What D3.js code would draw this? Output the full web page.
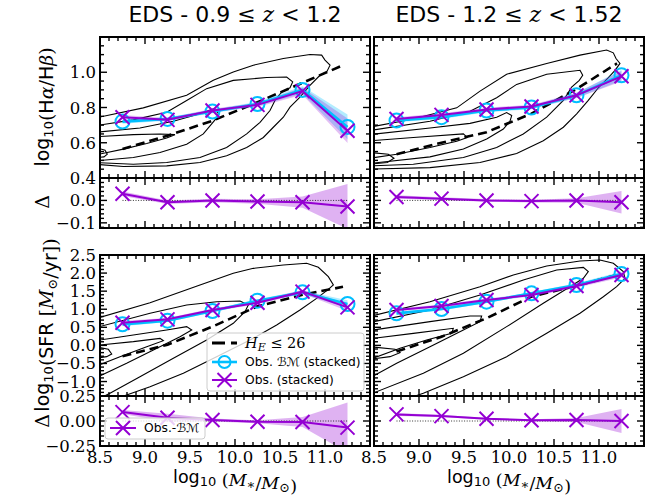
<!DOCTYPE html>
<html>
<head>
<meta charset="utf-8">
<script src="https://cdn.jsdelivr.net/npm/d3@7"></script>
<style>
  body { margin: 0; background: #fff; }
  svg { display: block; }
</style>
</head>
<body>
<svg id="fig" width="663" height="497"></svg>
<script>
// ---------------------------------------------------------------------------
// Stacked measurements in stellar-mass bins (log10 M*/Msun)
// ---------------------------------------------------------------------------
const massBins = [8.75, 9.25, 9.75, 10.25, 10.75, 11.25];
const massTickLabels = ["8.5", "9.0", "9.5", "10.0", "10.5", "11.0"];
const panelTitles = ["0.9", "1.2", "1.2", "1.52"];

// Balmer decrement, 0.9 <= z < 1.2
const balmerLoBM       = [0.720, 0.735, 0.777, 0.820, 0.900, 0.690];
const balmerLoBMErr    = [0.012, 0.010, 0.010, 0.012, 0.020, 0.070];
const balmerLoObs      = [0.745, 0.730, 0.783, 0.815, 0.893, 0.668];
const balmerLoObsErr   = [0.012, 0.010, 0.010, 0.012, 0.020, 0.070];
const balmerLoDelta    = [0.030, -0.008, 0.000, -0.005, -0.008, -0.027];
const balmerLoDeltaErr = [0.010, 0.008, 0.008, 0.010, 0.025, 0.100];
const balmerLoHE       = [0.564, 0.640, 0.725, 0.830, 0.940, 1.040];

// Balmer decrement, 1.2 <= z < 1.52
const balmerHiBM       = [0.726, 0.745, 0.783, 0.800, 0.869, 0.983];
const balmerHiBMErr    = [0.010, 0.010, 0.010, 0.010, 0.015, 0.030];
const balmerHiObs      = [0.735, 0.758, 0.789, 0.806, 0.869, 0.977];
const balmerHiObsErr   = [0.010, 0.010, 0.010, 0.010, 0.015, 0.030];
const balmerHiDelta    = [0.015, 0.008, 0.000, -0.003, 0.000, -0.008];
const balmerHiDeltaErr = [0.008, 0.006, 0.006, 0.006, 0.010, 0.050];
const balmerHiHE       = [0.535, 0.600, 0.660, 0.765, 0.905, 1.050];

// Star formation rate, 0.9 <= z < 1.2
const sfrLoBM       = [0.582, 0.684, 0.951, 1.237, 1.467, 1.145];
const sfrLoBMErr    = [0.050, 0.040, 0.040, 0.040, 0.050, 0.100];
const sfrLoObs      = [0.628, 0.720, 0.979, 1.180, 1.486, 1.052];
const sfrLoObsErr   = [0.050, 0.040, 0.040, 0.040, 0.050, 0.100];
const sfrLoDelta    = [0.089, 0.033, 0.010, -0.007, -0.010, -0.066];
const sfrLoDeltaErr = [0.020, 0.040, 0.015, 0.015, 0.050, 0.250];
const sfrLoHE       = [-0.300, 0.020, 0.520, 1.080, 1.400, 1.620];

// Star formation rate, 1.2 <= z < 1.52
const sfrHiBM       = [0.886, 1.006, 1.209, 1.440, 1.670, 1.974];
const sfrHiBMErr    = [0.040, 0.040, 0.040, 0.040, 0.050, 0.070];
const sfrHiObs      = [0.979, 1.090, 1.255, 1.394, 1.643, 1.947];
const sfrHiObsErr   = [0.040, 0.040, 0.040, 0.040, 0.050, 0.070];
const sfrHiDelta    = [0.066, 0.049, 0.023, 0.007, 0.010, 0.000];
const sfrHiDeltaErr = [0.015, 0.010, 0.010, 0.010, 0.020, 0.120];
const sfrHiHE       = [-0.170, 0.240, 0.750, 1.350, 1.650, 1.950];

// Mass points of the H_E <= 26 running median
const heMass = [8.75, 9.25, 9.75, 10.25, 10.75, 11.2];

// Density contours of the H_E <= 26 sample, [log M*, value]
const balmerLoContours = [
  [[8.45,0.741],[8.981,0.798],[9.463,0.869],[9.759,0.954],[9.981,1.002],[10.204,1.04],[10.537,1.078],[10.833,1.101],[10.963,1.097],[11.0,1.069],[11.056,1.04],[11.019,1.002],[10.944,0.983],[10.833,0.926],[10.722,0.859],[10.611,0.802],[10.537,0.745],[10.426,0.688],[10.315,0.63],[10.13,0.573],[9.907,0.526],[9.611,0.488],[9.241,0.469],[8.759,0.465],[8.45,0.478]],
  [[8.45,0.697],[8.87,0.73],[9.241,0.773],[9.463,0.84],[9.685,0.907],[9.981,0.954],[10.352,0.97],[10.574,0.973],[10.641,0.945],[10.611,0.912],[10.519,0.888],[10.444,0.84],[10.389,0.783],[10.278,0.716],[10.13,0.65],[9.907,0.573],[9.611,0.516],[9.241,0.488],[8.87,0.478],[8.45,0.488]],
  [[8.45,0.659],[8.944,0.684],[9.315,0.722],[9.611,0.764],[9.759,0.792],[9.815,0.768],[9.796,0.741],[9.741,0.707],[9.648,0.65],[9.463,0.592],[9.167,0.545],[8.87,0.516],[8.45,0.497]],
  [[8.45,0.634],[8.87,0.646],[9.167,0.65],[9.333,0.646],[9.241,0.627],[9.019,0.596],[8.759,0.564],[8.45,0.531]],
  [[8.45,0.573],[8.556,0.558],[8.581,0.535],[8.544,0.52],[8.45,0.516]]
];
const balmerHiContours = [
  [[8.45,0.688],[8.937,0.735],[9.419,0.798],[9.678,0.893],[9.974,0.989],[10.419,1.05],[10.789,1.097],[11.085,1.126],[11.159,1.11],[11.189,1.078],[11.233,1.05],[11.178,1.011],[11.104,0.97],[10.993,0.912],[10.881,0.84],[10.752,0.764],[10.604,0.688],[10.381,0.611],[10.085,0.539],[9.678,0.488],[9.122,0.459],[8.45,0.45]],
  [[8.45,0.669],[9.122,0.722],[9.567,0.779],[9.863,0.855],[10.085,0.931],[10.419,0.989],[10.789,1.011],[10.819,0.983],[10.781,0.954],[10.696,0.916],[10.604,0.84],[10.419,0.745],[10.159,0.65],[9.863,0.573],[9.493,0.516],[8.937,0.478],[8.45,0.469]],
  [[8.45,0.646],[9.122,0.684],[9.567,0.71],[9.863,0.745],[9.974,0.771],[10.03,0.754],[10.011,0.722],[9.937,0.678],[9.752,0.621],[9.493,0.564],[9.122,0.52],[8.45,0.482]],
  [[8.45,0.611],[8.937,0.63],[9.493,0.65],[9.537,0.63],[9.419,0.608],[9.122,0.573],[8.752,0.535],[8.45,0.512]],
  [[8.45,0.545],[8.659,0.535],[8.722,0.512],[8.648,0.488],[8.45,0.478]]
];
const sfrLoContours = [
  [[8.45,0.74],[9.056,1.18],[9.611,1.67],[9.981,1.993],[10.204,2.131],[10.537,2.223],[10.796,2.27],[10.926,2.159],[11.037,1.9],[11.093,1.67],[11.037,1.55],[10.907,1.301],[10.722,0.979],[10.463,0.564],[10.167,0.149],[9.796,-0.312],[9.426,-0.773],[9.056,-1.142],[8.796,-1.372],[8.7,-1.45]],
  [[8.45,0.49],[9.056,0.887],[9.463,1.117],[9.796,1.209],[10.056,1.228],[10.148,1.117],[10.111,0.933],[9.981,0.61],[9.685,0.149],[9.315,-0.358],[8.944,-0.865],[8.611,-1.326],[8.5,-1.46]],
  [[8.45,0.13],[8.87,0.287],[9.241,0.425],[9.463,0.518],[9.519,0.425],[9.389,0.241],[9.093,-0.128],[8.796,-0.497],[8.45,-0.9]],
  [[8.45,0.0],[8.87,0.103],[9.167,0.195],[9.204,0.13],[9.019,-0.035],[8.722,-0.312],[8.45,-0.58]],
  [[8.45,-0.035],[8.593,-0.109],[8.63,-0.238],[8.574,-0.312],[8.45,-0.358]]
];
const sfrHiContours = [
  [[8.45,0.8],[9.122,1.209],[9.678,1.624],[10.048,1.947],[10.419,2.196],[10.789,2.334],[11.011,2.362],[11.159,2.27],[11.27,2.039],[11.289,1.855],[11.196,1.624],[11.048,1.347],[10.789,0.887],[10.419,0.333],[9.974,-0.312],[9.493,-0.865],[9.048,-1.326],[8.826,-1.511]],
  [[8.45,0.63],[9.122,0.979],[9.678,1.394],[10.159,1.808],[10.53,2.085],[10.826,2.159],[10.881,2.039],[10.826,1.855],[10.678,1.624],[10.381,1.163],[9.974,0.518],[9.493,-0.22],[9.048,-0.773],[8.45,-1.36]],
  [[8.45,0.41],[9.122,0.656],[9.567,0.813],[9.696,0.813],[9.678,0.656],[9.493,0.425],[9.122,-0.035],[8.752,-0.497],[8.45,-0.9]],
  [[8.45,0.18],[8.937,0.333],[9.381,0.472],[9.363,0.333],[9.085,0.149],[8.789,-0.082],[8.45,-0.39]],
  [[8.45,-0.035],[8.733,-0.109],[8.789,-0.201],[8.678,-0.312],[8.45,-0.386]]
];

// ---------------------------------------------------------------------------
// Layout and styling
// ---------------------------------------------------------------------------
const CYAN = "#00bfff";
const VIOLET = "#9400d3";
const SERIF = "'DejaVu Serif', serif";
const SANS = "'DejaVu Sans', sans-serif";
const TICK_FONT = 16.5;

const colLeft = [100, 374];
const colWidth = 270;
const rowLayout = [
  { top: 37,  mainH: 141, resH: 50 },
  { top: 255, mainH: 141, resH: 50 }
];

const svg = d3.select("#fig");
const defs = svg.append("defs");

function stepRange(a, b, step) {
  const n = Math.round((b - a) / step);
  return d3.range(n + 1).map(i => +(a + i * step).toFixed(6));
}

// inward ticks on all four sides, plus the frame
function drawFrame(g, x, y, yMajor, yMinor) {
  const [x0, x1] = x.range();
  const [y0, y1] = y.range(); // y0 bottom, y1 top
  const xMajor = stepRange(8.5, 11.5, 0.5);
  const xMinor = stepRange(8.5, 11.5, 0.1);
  const isMajor = (v, arr) => arr.some(m => Math.abs(m - v) < 1e-6);
  const t = g.append("g").attr("stroke", "#000").attr("stroke-width", 1.4);
  xMinor.forEach(v => {
    const L = isMajor(v, xMajor) ? 7 : 4;
    const px = x(v);
    t.append("line").attr("x1", px).attr("x2", px).attr("y1", y0).attr("y2", y0 - L);
    t.append("line").attr("x1", px).attr("x2", px).attr("y1", y1).attr("y2", y1 + L);
  });
  yMinor.forEach(v => {
    if (v < y.domain()[0] - 1e-9 || v > y.domain()[1] + 1e-9) return;
    const L = isMajor(v, yMajor) ? 7 : 4;
    const py = y(v);
    t.append("line").attr("x1", x0).attr("x2", x0 + L).attr("y1", py).attr("y2", py);
    t.append("line").attr("x1", x1).attr("x2", x1 - L).attr("y1", py).attr("y2", py);
  });
  g.append("rect").attr("x", x0).attr("y", y1).attr("width", x1 - x0).attr("height", y0 - y1)
    .attr("fill", "none").attr("stroke", "#000").attr("stroke-width", 2);
}

function xMarker(sel, s) {
  return sel.attr("d", `M${-s},${-s}L${s},${s}M${-s},${s}L${s},${-s}`);
}

let clipId = 0;
function clipRect(x, y) {
  const id = "clip" + (clipId++);
  const [x0, x1] = x.range();
  const [y0, y1] = y.range();
  defs.append("clipPath").attr("id", id).append("rect")
    .attr("x", x0).attr("y", y1).attr("width", x1 - x0).attr("height", y0 - y1);
  return `url(#${id})`;
}

function drawPanel(p) {
  const left = colLeft[p.col];
  const row = rowLayout[p.row];
  const x = d3.scaleLinear().domain([8.5, 11.5]).range([left, left + colWidth]);
  const y = d3.scaleLinear().domain(p.yDomain).range([row.top + row.mainH, row.top]);
  const yr = d3.scaleLinear().domain(p.rDomain)
    .range([row.top + row.mainH + row.resH, row.top + row.mainH]);

  // ---------------- main axes ----------------
  const g = svg.append("g");
  const inner = g.append("g").attr("clip-path", clipRect(x, y));
  const contourLine = d3.line().x(d => x(d[0])).y(d => y(d[1]));
  inner.selectAll("path.contour").data(p.contours).join("path")
    .attr("class", "contour").attr("d", contourLine)
    .attr("fill", "none").attr("stroke", "#000").attr("stroke-width", 1.1);

  const heLine = d3.line().x((d, i) => x(heMass[i])).y(d => y(d));
  inner.append("path").attr("d", heLine(p.he))
    .attr("fill", "none").attr("stroke", "#000").attr("stroke-width", 2.6)
    .attr("stroke-dasharray", "9,5");

  const band = (vals, errs, ys) => d3.area()
    .x((d, i) => x(massBins[i]))
    .y0((d, i) => ys(vals[i] - errs[i]))
    .y1((d, i) => ys(vals[i] + errs[i]))(vals);
  const series = (vals, ys) => d3.line().x((d, i) => x(massBins[i])).y(d => ys(d))(vals);

  inner.append("path").attr("d", band(p.bm, p.bmErr, y)).attr("fill", CYAN).attr("fill-opacity", 0.3);
  inner.append("path").attr("d", band(p.obs, p.obsErr, y)).attr("fill", VIOLET).attr("fill-opacity", 0.25);

  g.append("path").attr("d", series(p.bm, y)).attr("fill", "none").attr("stroke", CYAN).attr("stroke-width", 2.6);
  g.selectAll("circle.bm").data(p.bm).join("circle").attr("class", "bm")
    .attr("cx", (d, i) => x(massBins[i])).attr("cy", d => y(d)).attr("r", 7)
    .attr("fill", "none").attr("stroke", CYAN).attr("stroke-width", 2);
  g.append("path").attr("d", series(p.obs, y)).attr("fill", "none").attr("stroke", VIOLET).attr("stroke-width", 2);
  g.selectAll("path.obs").data(p.obs).join("path").attr("class", "obs")
    .attr("transform", (d, i) => `translate(${x(massBins[i])},${y(d)})`)
    .call(xMarker, 7).attr("stroke", VIOLET).attr("stroke-width", 2).attr("fill", "none");

  drawFrame(g, x, y, p.yMajor, p.yMinor);

  // ---------------- residual axes ----------------
  const gr = svg.append("g");
  const rin = gr.append("g").attr("clip-path", clipRect(x, yr));
  rin.append("path").attr("d", band(p.delta, p.deltaErr, yr)).attr("fill", VIOLET).attr("fill-opacity", 0.3);
  rin.append("line").attr("x1", x(massBins[0])).attr("x2", x(massBins[5]))
    .attr("y1", yr(0)).attr("y2", yr(0))
    .attr("stroke", "#000").attr("stroke-width", 0.8).attr("stroke-dasharray", "1,1.6");
  gr.append("path").attr("d", series(p.delta, yr)).attr("fill", "none").attr("stroke", VIOLET).attr("stroke-width", 2);
  gr.selectAll("path.dobs").data(p.delta).join("path").attr("class", "dobs")
    .attr("transform", (d, i) => `translate(${x(massBins[i])},${yr(d)})`)
    .call(xMarker, 7).attr("stroke", VIOLET).attr("stroke-width", 2).attr("fill", "none");
  drawFrame(gr, x, yr, p.rMajor, p.rMinor);

  // ---------------- tick labels ----------------
  if (p.col === 0) {
    p.yLabels.forEach(([v, s]) => {
      svg.append("text").attr("x", left - 4).attr("y", y(v) + 6)
        .attr("text-anchor", "end").attr("font-family", SERIF).attr("font-size", TICK_FONT).text(s);
    });
    p.rLabels.forEach(([v, s]) => {
      svg.append("text").attr("x", left - 4).attr("y", yr(v) + 6)
        .attr("text-anchor", "end").attr("font-family", SERIF).attr("font-size", TICK_FONT).text(s);
    });
  }
  if (p.row === 1) {
    massTickLabels.forEach(s => {
      svg.append("text").attr("x", x(+s)).attr("y", 463)
        .attr("text-anchor", "middle").attr("font-family", SERIF).attr("font-size", TICK_FONT).text(s);
    });
  }
  return { x, y, yr };
}

const balmerMajor = stepRange(0.4, 1.2, 0.2);
const balmerMinor = stepRange(0.4, 1.2, 0.05);
const balmerLabels = [[0.4, "0.4"], [0.6, "0.6"], [0.8, "0.8"], [1.0, "1.0"]];
const balmerRMajor = [-0.1, 0, 0.1];
const balmerRMinor = stepRange(-0.12, 0.1, 0.02);
const balmerRLabels = [[0, "0.0"], [-0.1, "\u22120.1"]];

const sfrMajor = stepRange(-1.0, 2.5, 0.5);
const sfrMinor = stepRange(-1.4, 2.5, 0.1);
const sfrLabels = sfrMajor.map(v => [v, (v < 0 ? "\u2212" : "") + Math.abs(v).toFixed(1)]);
const sfrRMajor = [-0.25, 0, 0.25];
const sfrRMinor = stepRange(-0.25, 0.25, 0.05);
const sfrRLabels = [[0.25, "0.25"], [0, "0.00"], [-0.25, "\u22120.25"]];

const panels = [
  { row: 0, col: 0, yDomain: [0.4, 1.2], rDomain: [-0.123, 0.1],
    bm: balmerLoBM, bmErr: balmerLoBMErr, obs: balmerLoObs, obsErr: balmerLoObsErr,
    delta: balmerLoDelta, deltaErr: balmerLoDeltaErr, he: balmerLoHE, contours: balmerLoContours,
    yMajor: balmerMajor, yMinor: balmerMinor, yLabels: balmerLabels,
    rMajor: balmerRMajor, rMinor: balmerRMinor, rLabels: balmerRLabels },
  { row: 0, col: 1, yDomain: [0.4, 1.2], rDomain: [-0.123, 0.1],
    bm: balmerHiBM, bmErr: balmerHiBMErr, obs: balmerHiObs, obsErr: balmerHiObsErr,
    delta: balmerHiDelta, deltaErr: balmerHiDeltaErr, he: balmerHiHE, contours: balmerHiContours,
    yMajor: balmerMajor, yMinor: balmerMinor, yLabels: balmerLabels,
    rMajor: balmerRMajor, rMinor: balmerRMinor, rLabels: balmerRLabels },
  { row: 1, col: 0, yDomain: [-1.4, 2.5], rDomain: [-0.25, 0.25],
    bm: sfrLoBM, bmErr: sfrLoBMErr, obs: sfrLoObs, obsErr: sfrLoObsErr,
    delta: sfrLoDelta, deltaErr: sfrLoDeltaErr, he: sfrLoHE, contours: sfrLoContours,
    yMajor: sfrMajor, yMinor: sfrMinor, yLabels: sfrLabels,
    rMajor: sfrRMajor, rMinor: sfrRMinor, rLabels: sfrRLabels },
  { row: 1, col: 1, yDomain: [-1.4, 2.5], rDomain: [-0.25, 0.25],
    bm: sfrHiBM, bmErr: sfrHiBMErr, obs: sfrHiObs, obsErr: sfrHiObsErr,
    delta: sfrHiDelta, deltaErr: sfrHiDeltaErr, he: sfrHiHE, contours: sfrHiContours,
    yMajor: sfrMajor, yMinor: sfrMinor, yLabels: sfrLabels,
    rMajor: sfrRMajor, rMinor: sfrRMinor, rLabels: sfrRLabels }
];

const scales = panels.map(drawPanel);

// ---------------------------------------------------------------------------
// Titles and axis labels
// ---------------------------------------------------------------------------
function title(cx, lo, hi) {
  const t = svg.append("text").attr("x", cx).attr("y", 22).attr("text-anchor", "middle")
    .attr("font-size", 22).attr("font-family", SANS);
  t.append("tspan").text(`EDS - ${lo} `);
  t.append("tspan").attr("font-family", SERIF).text("\u2264 ");
  t.append("tspan").attr("font-family", SERIF).attr("font-style", "italic").text("z");
  t.append("tspan").attr("font-family", SERIF).text(" < ");
  t.append("tspan").text(hi);
}
title(colLeft[0] + colWidth / 2, panelTitles[0], panelTitles[1]);
title(colLeft[1] + colWidth / 2, panelTitles[2], panelTitles[3]);

function rotLabel(cy, build) {
  const t = svg.append("text").attr("transform", `translate(49,${cy}) rotate(-90)`)
    .attr("text-anchor", "middle").attr("font-size", 19).attr("font-family", SANS);
  build(t);
}
const sub = (t, s, fam, shift) => {
  const d = shift || 4;
  t.append("tspan").attr("dy", d).attr("font-size", 13).attr("font-family", fam || SANS).text(s);
  t.append("tspan").attr("dy", -d).text("");
};

rotLabel(107, t => {
  t.append("tspan").text("log");
  sub(t, "10");
  t.append("tspan").attr("font-family", SERIF).text("(");
  t.append("tspan").text("H");
  t.append("tspan").attr("font-family", SERIF).attr("font-style", "italic").text("\u03b1");
  t.append("tspan").attr("font-family", SERIF).text("/");
  t.append("tspan").text("H");
  t.append("tspan").attr("font-family", SERIF).attr("font-style", "italic").text("\u03b2");
  t.append("tspan").attr("font-family", SERIF).text(")");
});
rotLabel(325, t => {
  t.append("tspan").text("log");
  sub(t, "10");
  t.append("tspan").attr("font-family", SERIF).text("(");
  t.append("tspan").text("SFR ");
  t.append("tspan").attr("font-family", SERIF).text("[");
  t.append("tspan").attr("font-family", SERIF).attr("font-style", "italic").text("M");
  sub(t, "\u2299", SERIF);
  t.append("tspan").attr("font-family", SERIF).text("/");
  t.append("tspan").text("yr");
  t.append("tspan").attr("font-family", SERIF).text("])");
});
[202, 421].forEach(cy => {
  svg.append("text").attr("transform", `translate(49,${cy}) rotate(-90)`)
    .attr("text-anchor", "middle").attr("font-size", 19).attr("font-family", SERIF).text("\u0394");
});

function massLabel(cx) {
  const t = svg.append("text").attr("x", cx).attr("y", 483).attr("text-anchor", "middle")
    .attr("font-size", 17.5).attr("font-family", SANS);
  t.append("tspan").text("log");
  sub(t, "10", SANS, 3);
  t.append("tspan").attr("font-family", SERIF).text(" (");
  t.append("tspan").attr("font-family", SERIF).attr("font-style", "italic").text("M");
  sub(t, "\u2217", SERIF, 3);
  t.append("tspan").attr("font-family", SERIF).text("/");
  t.append("tspan").attr("font-family", SERIF).attr("font-style", "italic").text("M");
  sub(t, "\u2299", SERIF, 3);
  t.append("tspan").attr("font-family", SERIF).text(")");
}
massLabel(colLeft[0] + colWidth / 2);
massLabel(colLeft[1] + colWidth / 2);

// ---------------------------------------------------------------------------
// Legends (lower-left panel)
// ---------------------------------------------------------------------------
const leg = svg.append("g");
leg.append("rect").attr("x", 207).attr("y", 333).attr("width", 157).attr("height", 58).attr("rx", 3)
  .attr("fill", "#fff").attr("fill-opacity", 0.8).attr("stroke", "#ccc").attr("stroke-width", 1);
const hx0 = 212, hx1 = 237, tx = 245;
leg.append("line").attr("x1", hx0).attr("x2", hx1).attr("y1", 343).attr("y2", 343)
  .attr("stroke", "#000").attr("stroke-width", 2.8).attr("stroke-dasharray", "13,6");
const l1 = leg.append("text").attr("x", tx).attr("y", 348).attr("font-family", SERIF).attr("font-size", 14.5);
l1.append("tspan").attr("font-style", "italic").text("H");
l1.append("tspan").attr("font-style", "italic").attr("dy", 3).attr("font-size", 11).text("E");
l1.append("tspan").attr("dy", -3).text(" \u2264 26");

leg.append("line").attr("x1", hx0).attr("x2", hx1).attr("y1", 362).attr("y2", 362)
  .attr("stroke", CYAN).attr("stroke-width", 2.6);
leg.append("circle").attr("cx", (hx0 + hx1) / 2).attr("cy", 362).attr("r", 6)
  .attr("fill", "none").attr("stroke", CYAN).attr("stroke-width", 2);
leg.append("text").attr("x", tx).attr("y", 366).attr("font-family", SANS).attr("font-size", 12.3)
  .text("Obs. \u212c\u2133 (stacked)");

leg.append("line").attr("x1", hx0).attr("x2", hx1).attr("y1", 380).attr("y2", 380)
  .attr("stroke", VIOLET).attr("stroke-width", 2);
leg.append("path").attr("transform", `translate(${(hx0 + hx1) / 2},380)`).call(xMarker, 7)
  .attr("stroke", VIOLET).attr("stroke-width", 2).attr("fill", "none");
leg.append("text").attr("x", tx).attr("y", 384).attr("font-family", SANS).attr("font-size", 12.3)
  .text("Obs. (stacked)");

const leg2 = svg.append("g");
leg2.append("rect").attr("x", 105).attr("y", 418).attr("width", 100).attr("height", 21).attr("rx", 3)
  .attr("fill", "#fff").attr("fill-opacity", 0.8).attr("stroke", "#ccc").attr("stroke-width", 1);
leg2.append("line").attr("x1", 110).attr("x2", 136).attr("y1", 428).attr("y2", 428)
  .attr("stroke", VIOLET).attr("stroke-width", 2);
leg2.append("path").attr("transform", "translate(123,428)").call(xMarker, 7)
  .attr("stroke", VIOLET).attr("stroke-width", 2).attr("fill", "none");
leg2.append("text").attr("x", 144).attr("y", 432).attr("font-family", SANS).attr("font-size", 12.3)
  .text("Obs.-\u212c\u2133");
</script>
</body>
</html>
